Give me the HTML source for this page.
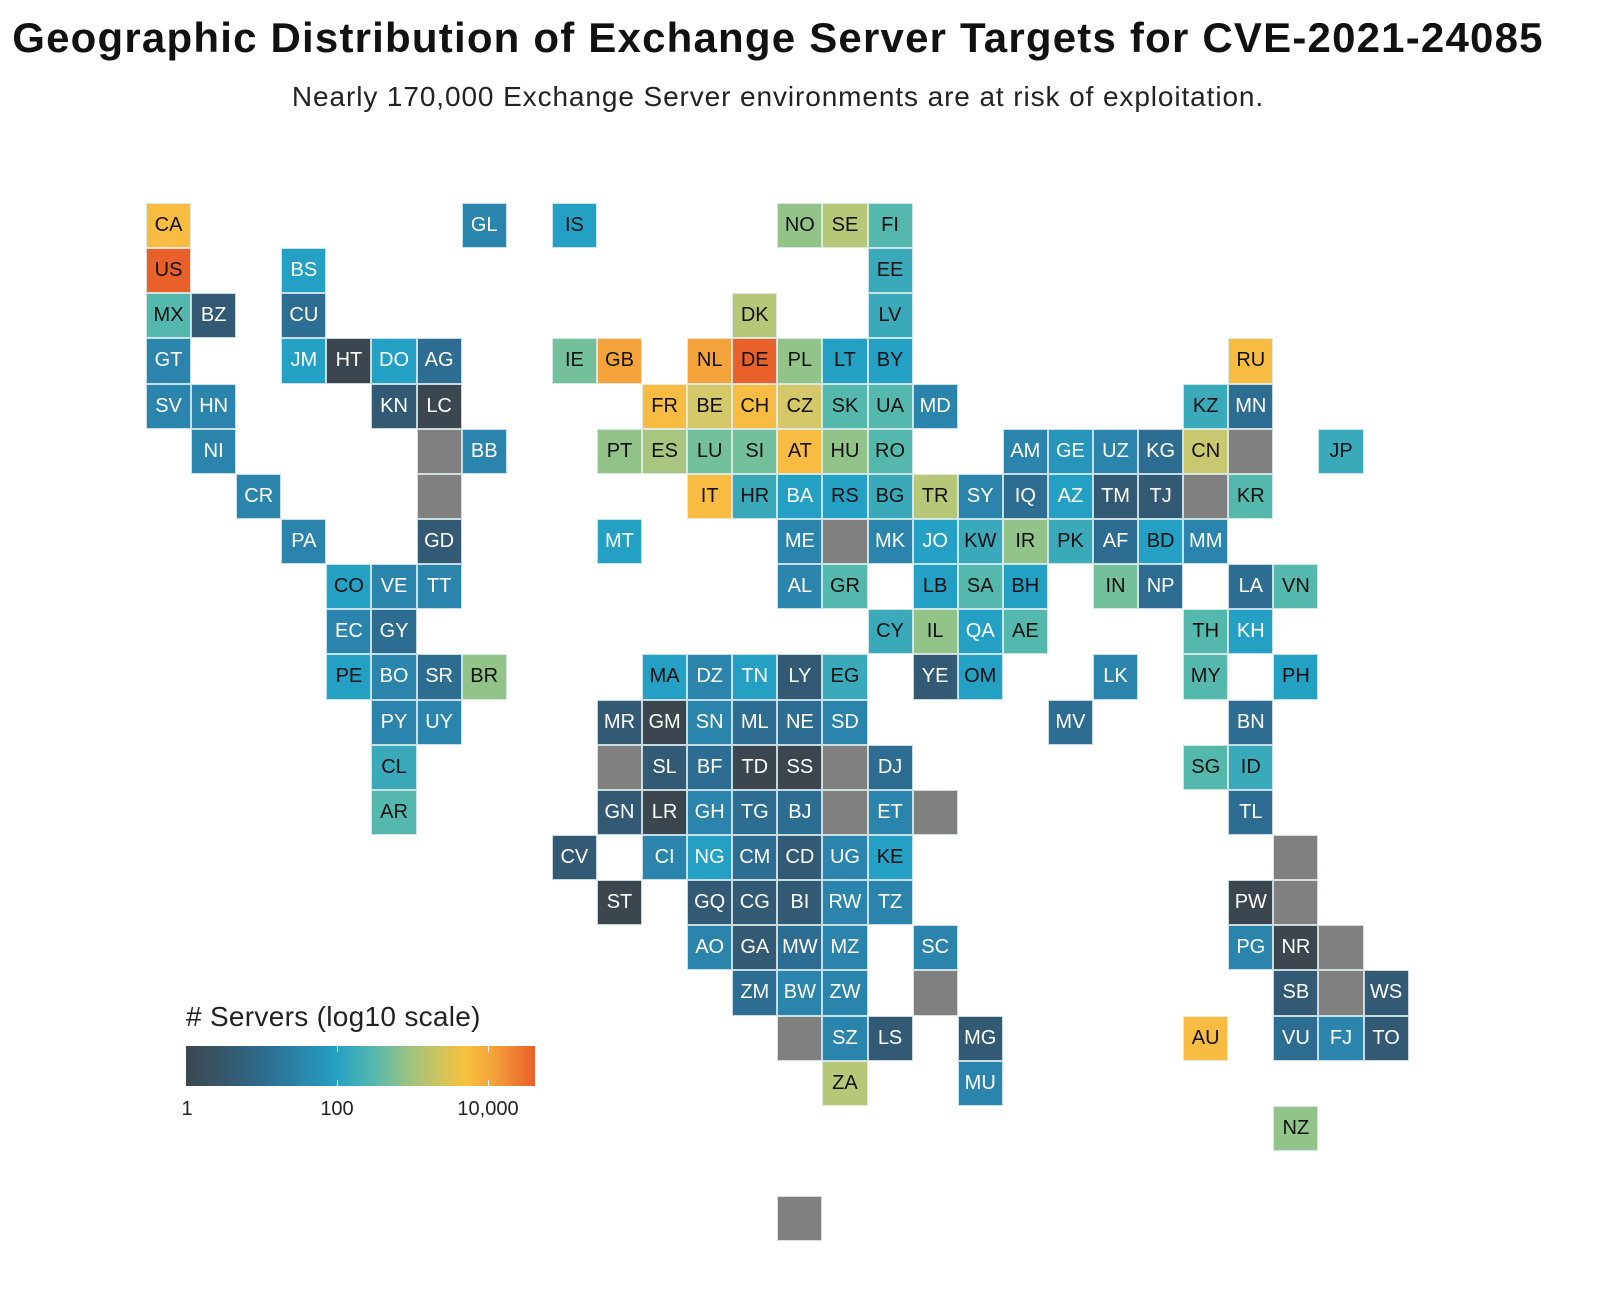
<!DOCTYPE html>
<html><head><meta charset="utf-8">
<style>
html,body{margin:0;padding:0;background:#fff;width:1600px;height:1292px;overflow:hidden;font-family:"Liberation Sans",sans-serif;}
h1{position:absolute;left:0;width:1556px;top:14px;margin:0;text-align:center;font-size:42px;font-weight:bold;color:#111;letter-spacing:1.2px}
.sub{position:absolute;left:0;width:1556px;top:81px;text-align:center;font-size:28px;color:#222;letter-spacing:0.9px}
#g{position:absolute;left:146px;top:203px;display:grid;grid-template-columns:repeat(28,45.1px);grid-template-rows:repeat(23,45.15px)}
#g div{box-sizing:border-box;border:1px solid rgba(225,240,240,.85);font-size:20px;text-align:center;line-height:43px;color:#fff}
.K{background:#3b464e}.D{background:#335a74}.E{background:#2e6d92}.B{background:#2b84ab}.C{background:#24a0c4}
.Q{background:#3aaabb;color:#111!important}.T{background:#55b8ad;color:#111!important}.M{background:#74bf9c;color:#111!important}
.G{background:#92c48a;color:#111!important}.L{background:#b6c878;color:#111!important}.S{background:#d4c86a;color:#111!important}
.Y{background:#f8bc42;color:#111!important}.O{background:#f4a33a;color:#111!important}.R{background:#e8602a;color:#111!important}
.X{background:#808080}.b{color:#111!important}
.lt{position:absolute;left:186px;top:1001px;font-size:28px;color:#222;letter-spacing:0.3px}
.bar{position:absolute;left:186px;top:1046px;width:349px;height:40px;background:linear-gradient(to right,#3b474f 0%,#2e6a8c 22%,#24a0c4 43%,#55b8ad 54%,#9cc480 64%,#f8c23e 80%,#f4a23a 88%,#e8602a 100%)}
.tk{position:absolute;width:1px;background:#fff;height:6px}
.tl{position:absolute;top:1098px;font-size:20px;color:#222;transform:translateX(-50%)}
</style></head><body>
<h1>Geographic Distribution of Exchange Server Targets for CVE-2021-24085</h1>
<div class="sub">Nearly 170,000 Exchange Server environments are at risk of exploitation.</div>
<div id="g">
<div class="Y" style="grid-area:1/1">CA</div><div class="B" style="grid-area:1/8">GL</div><div class="C b" style="grid-area:1/10">IS</div><div class="G" style="grid-area:1/15">NO</div><div class="L" style="grid-area:1/16">SE</div><div class="T" style="grid-area:1/17">FI</div>
<div class="R" style="grid-area:2/1">US</div><div class="C" style="grid-area:2/4">BS</div><div class="Q" style="grid-area:2/17">EE</div>
<div class="T" style="grid-area:3/1">MX</div><div class="D" style="grid-area:3/2">BZ</div><div class="E" style="grid-area:3/4">CU</div><div class="L" style="grid-area:3/14">DK</div><div class="Q" style="grid-area:3/17">LV</div>
<div class="B" style="grid-area:4/1">GT</div><div class="C" style="grid-area:4/4">JM</div><div class="K" style="grid-area:4/5">HT</div><div class="C" style="grid-area:4/6">DO</div><div class="E" style="grid-area:4/7">AG</div><div class="M" style="grid-area:4/10">IE</div><div class="O" style="grid-area:4/11">GB</div><div class="O" style="grid-area:4/13">NL</div><div class="R" style="grid-area:4/14">DE</div><div class="G" style="grid-area:4/15">PL</div><div class="C b" style="grid-area:4/16">LT</div><div class="C b" style="grid-area:4/17">BY</div><div class="Y" style="grid-area:4/25">RU</div>
<div class="B" style="grid-area:5/1">SV</div><div class="B" style="grid-area:5/2">HN</div><div class="D" style="grid-area:5/6">KN</div><div class="K" style="grid-area:5/7">LC</div><div class="Y" style="grid-area:5/12">FR</div><div class="S" style="grid-area:5/13">BE</div><div class="Y" style="grid-area:5/14">CH</div><div class="S" style="grid-area:5/15">CZ</div><div class="T" style="grid-area:5/16">SK</div><div class="T" style="grid-area:5/17">UA</div><div class="B" style="grid-area:5/18">MD</div><div class="Q" style="grid-area:5/24">KZ</div><div class="E" style="grid-area:5/25">MN</div>
<div class="B" style="grid-area:6/2">NI</div><div class="X" style="grid-area:6/7"></div><div class="B" style="grid-area:6/8">BB</div><div class="G" style="grid-area:6/11">PT</div><div class="L" style="grid-area:6/12;background:#a8c680">ES</div><div class="M" style="grid-area:6/13">LU</div><div class="M" style="grid-area:6/14">SI</div><div class="Y" style="grid-area:6/15">AT</div><div class="G" style="grid-area:6/16">HU</div><div class="T" style="grid-area:6/17">RO</div><div class="B" style="grid-area:6/20">AM</div><div class="C" style="grid-area:6/21;background:#2896bb">GE</div><div class="B" style="grid-area:6/22">UZ</div><div class="E" style="grid-area:6/23">KG</div><div class="S" style="grid-area:6/24;background:#c8c870">CN</div><div class="X" style="grid-area:6/25"></div><div class="Q" style="grid-area:6/27">JP</div>
<div class="B" style="grid-area:7/3">CR</div><div class="X" style="grid-area:7/7"></div><div class="Y" style="grid-area:7/13">IT</div><div class="Q" style="grid-area:7/14">HR</div><div class="C" style="grid-area:7/15">BA</div><div class="C b" style="grid-area:7/16">RS</div><div class="Q" style="grid-area:7/17">BG</div><div class="L" style="grid-area:7/18">TR</div><div class="B" style="grid-area:7/19">SY</div><div class="E" style="grid-area:7/20">IQ</div><div class="C" style="grid-area:7/21">AZ</div><div class="D" style="grid-area:7/22">TM</div><div class="D" style="grid-area:7/23">TJ</div><div class="X" style="grid-area:7/24"></div><div class="T" style="grid-area:7/25">KR</div>
<div class="B" style="grid-area:8/4">PA</div><div class="D" style="grid-area:8/7">GD</div><div class="C" style="grid-area:8/11">MT</div><div class="B" style="grid-area:8/15">ME</div><div class="X" style="grid-area:8/16"></div><div class="B" style="grid-area:8/17">MK</div><div class="C" style="grid-area:8/18">JO</div><div class="Q" style="grid-area:8/19">KW</div><div class="G" style="grid-area:8/20">IR</div><div class="Q" style="grid-area:8/21">PK</div><div class="E" style="grid-area:8/22">AF</div><div class="C b" style="grid-area:8/23">BD</div><div class="B" style="grid-area:8/24">MM</div>
<div class="C b" style="grid-area:9/5">CO</div><div class="B" style="grid-area:9/6">VE</div><div class="B" style="grid-area:9/7">TT</div><div class="B" style="grid-area:9/15">AL</div><div class="T" style="grid-area:9/16">GR</div><div class="C b" style="grid-area:9/18">LB</div><div class="T" style="grid-area:9/19">SA</div><div class="C b" style="grid-area:9/20">BH</div><div class="M" style="grid-area:9/22">IN</div><div class="E" style="grid-area:9/23">NP</div><div class="E" style="grid-area:9/25">LA</div><div class="T" style="grid-area:9/26">VN</div>
<div class="B" style="grid-area:10/5">EC</div><div class="E" style="grid-area:10/6">GY</div><div class="Q" style="grid-area:10/17">CY</div><div class="G" style="grid-area:10/18">IL</div><div class="C" style="grid-area:10/19">QA</div><div class="T" style="grid-area:10/20">AE</div><div class="T" style="grid-area:10/24">TH</div><div class="C" style="grid-area:10/25">KH</div>
<div class="C b" style="grid-area:11/5">PE</div><div class="B" style="grid-area:11/6">BO</div><div class="E" style="grid-area:11/7">SR</div><div class="G" style="grid-area:11/8">BR</div><div class="C b" style="grid-area:11/12">MA</div><div class="B" style="grid-area:11/13">DZ</div><div class="C" style="grid-area:11/14">TN</div><div class="D" style="grid-area:11/15">LY</div><div class="Q" style="grid-area:11/16">EG</div><div class="D" style="grid-area:11/18">YE</div><div class="C b" style="grid-area:11/19">OM</div><div class="B" style="grid-area:11/22">LK</div><div class="T" style="grid-area:11/24">MY</div><div class="C b" style="grid-area:11/26">PH</div>
<div class="B" style="grid-area:12/6">PY</div><div class="B" style="grid-area:12/7">UY</div><div class="D" style="grid-area:12/11">MR</div><div class="K" style="grid-area:12/12">GM</div><div class="B" style="grid-area:12/13">SN</div><div class="E" style="grid-area:12/14">ML</div><div class="E" style="grid-area:12/15">NE</div><div class="B" style="grid-area:12/16">SD</div><div class="E" style="grid-area:12/21">MV</div><div class="E" style="grid-area:12/25">BN</div>
<div class="Q" style="grid-area:13/6">CL</div><div class="X" style="grid-area:13/11"></div><div class="D" style="grid-area:13/12">SL</div><div class="E" style="grid-area:13/13">BF</div><div class="K" style="grid-area:13/14">TD</div><div class="K" style="grid-area:13/15">SS</div><div class="X" style="grid-area:13/16"></div><div class="E" style="grid-area:13/17">DJ</div><div class="T" style="grid-area:13/24">SG</div><div class="Q" style="grid-area:13/25">ID</div>
<div class="T" style="grid-area:14/6">AR</div><div class="D" style="grid-area:14/11">GN</div><div class="K" style="grid-area:14/12">LR</div><div class="B" style="grid-area:14/13">GH</div><div class="E" style="grid-area:14/14">TG</div><div class="E" style="grid-area:14/15">BJ</div><div class="X" style="grid-area:14/16"></div><div class="B" style="grid-area:14/17">ET</div><div class="X" style="grid-area:14/18"></div><div class="E" style="grid-area:14/25">TL</div>
<div class="D" style="grid-area:15/10">CV</div><div class="B" style="grid-area:15/12">CI</div><div class="C" style="grid-area:15/13">NG</div><div class="E" style="grid-area:15/14">CM</div><div class="D" style="grid-area:15/15">CD</div><div class="B" style="grid-area:15/16">UG</div><div class="C b" style="grid-area:15/17">KE</div><div class="X" style="grid-area:15/26"></div>
<div class="K" style="grid-area:16/11">ST</div><div class="D" style="grid-area:16/13">GQ</div><div class="D" style="grid-area:16/14">CG</div><div class="D" style="grid-area:16/15">BI</div><div class="B" style="grid-area:16/16">RW</div><div class="B" style="grid-area:16/17">TZ</div><div class="K" style="grid-area:16/25">PW</div><div class="X" style="grid-area:16/26"></div>
<div class="B" style="grid-area:17/13">AO</div><div class="D" style="grid-area:17/14">GA</div><div class="E" style="grid-area:17/15">MW</div><div class="B" style="grid-area:17/16">MZ</div><div class="B" style="grid-area:17/18">SC</div><div class="B" style="grid-area:17/25">PG</div><div class="K" style="grid-area:17/26">NR</div><div class="X" style="grid-area:17/27"></div>
<div class="E" style="grid-area:18/14">ZM</div><div class="B" style="grid-area:18/15">BW</div><div class="B" style="grid-area:18/16">ZW</div><div class="X" style="grid-area:18/18"></div><div class="D" style="grid-area:18/26">SB</div><div class="X" style="grid-area:18/27"></div><div class="D" style="grid-area:18/28">WS</div>
<div class="X" style="grid-area:19/15"></div><div class="B" style="grid-area:19/16">SZ</div><div class="D" style="grid-area:19/17">LS</div><div class="D" style="grid-area:19/19">MG</div><div class="Y" style="grid-area:19/24">AU</div><div class="E" style="grid-area:19/26">VU</div><div class="B" style="grid-area:19/27">FJ</div><div class="D" style="grid-area:19/28">TO</div>
<div class="L" style="grid-area:20/16">ZA</div><div class="B" style="grid-area:20/19">MU</div>
<div class="G" style="grid-area:21/26">NZ</div>
<div class="X" style="grid-area:23/15"></div>
</div>
<div class="lt"># Servers (log10 scale)</div>
<div class="bar"></div>
<div class="tk" style="left:337px;top:1046px"></div><div class="tk" style="left:337px;top:1080px"></div>
<div class="tk" style="left:488px;top:1046px"></div><div class="tk" style="left:488px;top:1080px"></div>
<div class="tl" style="left:187px">1</div><div class="tl" style="left:337px">100</div><div class="tl" style="left:488px">10,000</div>
</body></html>
